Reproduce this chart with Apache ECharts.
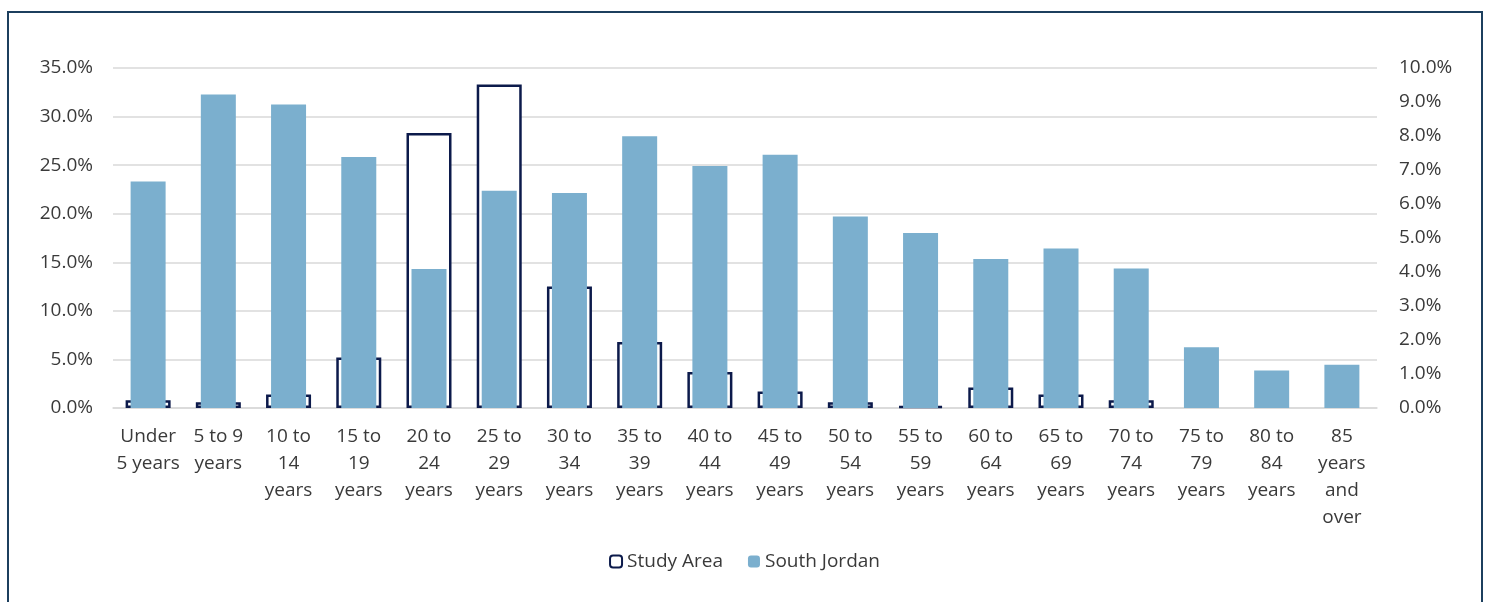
<!DOCTYPE html>
<html>
<head>
<meta charset="utf-8">
<script src="https://cdn.jsdelivr.net/npm/echarts@6/dist/echarts.min.js"></script>
<style>
html,body{margin:0;padding:0;background:#ffffff;}
#chart{position:absolute;left:0;top:0;width:1489px;height:602px;}
#frame{position:absolute;left:7px;top:11px;width:1472px;height:620px;border:2.5px solid #1c3f5e;box-sizing:content-box;pointer-events:none;}
</style>
</head>
<body>
<div id="chart"></div>
<div id="frame"></div>
<script>
const categories = ['Under\n5 years','5 to 9\nyears','10 to\n14\nyears','15 to\n19\nyears','20 to\n24\nyears','25 to\n29\nyears','30 to\n34\nyears','35 to\n39\nyears','40 to\n44\nyears','45 to\n49\nyears','50 to\n54\nyears','55 to\n59\nyears','60 to\n64\nyears','65 to\n69\nyears','70 to\n74\nyears','75 to\n79\nyears','80 to\n84\nyears','85\nyears\nand\nover'];
const studyArea = [0.8, 0.6, 1.4, 5.2, 28.3, 33.3, 12.5, 6.8, 3.7, 1.7, 0.6, 0.2, 2.1, 1.4, 0.8, null, null, null];
const southJordan = [6.66, 9.22, 8.93, 7.38, 4.09, 6.39, 6.32, 7.99, 7.12, 7.45, 5.63, 5.15, 4.38, 4.69, 4.10, 1.79, 1.10, 1.27];
const leftTicks = {min: 0, max: 35, interval: 5};
const rightTicks = {min: 0, max: 10, interval: 1};

const font = 'Open Sans';
const textColor = '#3a3a3a';
const fs = 19;
const chart = echarts.init(document.getElementById('chart'), null, {renderer: 'canvas'});
chart.setOption({
  animation: false,
  backgroundColor: 'transparent',
  textStyle: {fontFamily: font},
  grid: {left: 113, right: 112, top: 68, bottom: 194, containLabel: false},
  legend: {
    top: 547, left: 'center',
    itemWidth: 12, itemHeight: 12, itemGap: 25,
    textStyle: {fontFamily: font, fontSize: fs, color: textColor},
    data: ['Study Area', 'South Jordan']
  },
  xAxis: [{
    type: 'category', data: categories,
    axisLine: {show: true, lineStyle: {color: '#d9d9d9', width: 1.5}},
    axisTick: {show: false},
    axisLabel: {interval: 0, margin: 15, fontFamily: font, fontSize: fs, color: textColor, lineHeight: 27, align: 'center'}
  }, {
    type: 'category', data: categories, show: false
  }],
  yAxis: [{
    type: 'value', min: leftTicks.min, max: leftTicks.max, interval: leftTicks.interval,
    axisLine: {show: false}, axisTick: {show: false},
    splitLine: {lineStyle: {color: '#d9d9d9', width: 1.5}},
    axisLabel: {margin: 20, fontFamily: font, fontSize: fs, color: textColor, formatter: v => v.toFixed(1) + '%'}
  }, {
    type: 'value', min: rightTicks.min, max: rightTicks.max, interval: rightTicks.interval,
    position: 'right',
    axisLine: {show: false}, axisTick: {show: false}, splitLine: {show: false},
    axisLabel: {margin: 22, fontFamily: font, fontSize: fs, color: textColor, formatter: v => v.toFixed(1) + '%'}
  }],
  series: [{
    name: 'Study Area', type: 'bar', xAxisIndex: 0, yAxisIndex: 0,
    data: studyArea, barWidth: 45, z: 2,
    itemStyle: {color: '#ffffff', borderColor: '#0c1a4b', borderWidth: 2.5}
  }, {
    name: 'South Jordan', type: 'bar', xAxisIndex: 1, yAxisIndex: 1,
    data: southJordan, barWidth: 35, z: 3,
    itemStyle: {color: '#7bafce'}
  }]
});
</script>
</body>
</html>
